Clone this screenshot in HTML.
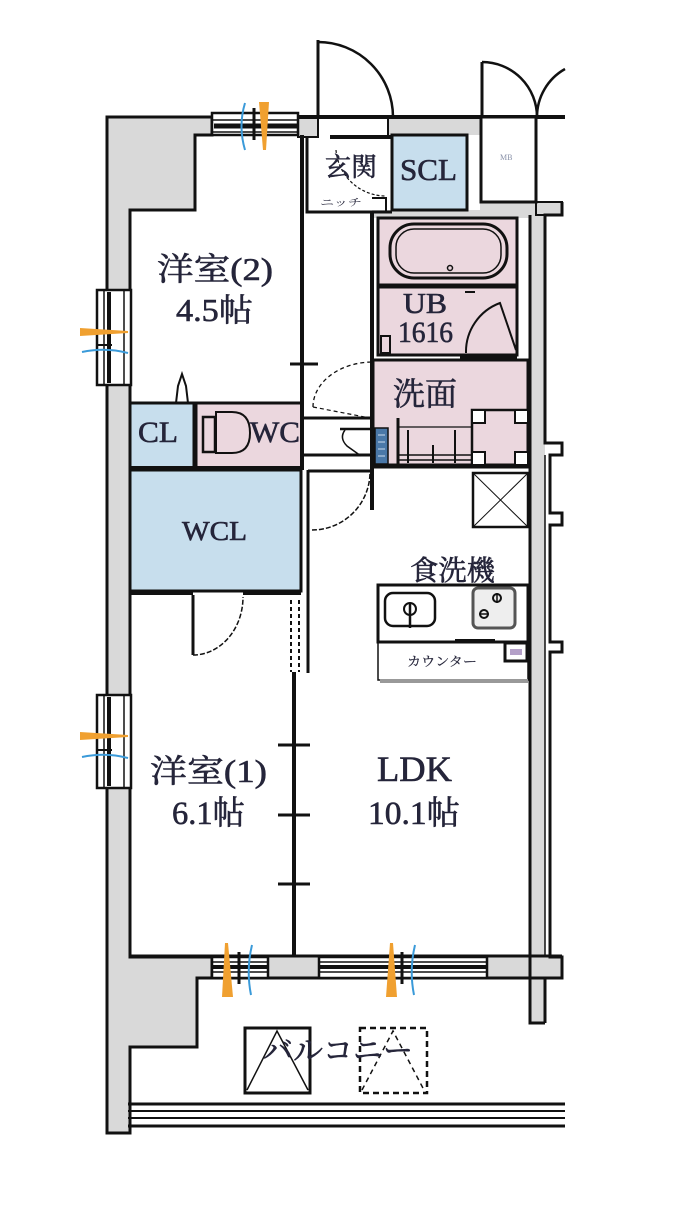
<!DOCTYPE html>
<html><head><meta charset="utf-8"><style>
html,body{margin:0;padding:0;background:#fff;width:700px;height:1220px;overflow:hidden;}
svg{display:block}
text{font-family:"Liberation Serif","Noto Serif CJK SC","Noto Serif CJK JP",serif;fill:#25253a;stroke:#25253a;stroke-width:0.6;}
</style></head><body>
<svg width="700" height="1220" viewBox="0 0 700 1220" xmlns="http://www.w3.org/2000/svg">
<!-- gray walls -->
<g fill="#d9d9d9" stroke="none">
<rect x="298" y="117" width="20" height="20"/>
<rect x="388" y="117" width="92" height="18"/>
<rect x="372" y="210" width="160" height="8"/>
<rect x="480" y="202" width="82" height="13"/>
<rect x="531" y="215" width="14" height="808"/>
<rect x="268" y="957" width="50" height="21"/>
<rect x="487" y="957" width="75" height="21"/>
</g>
<polygon points="107,117 212,117 212,135 195,135 195,210 130,210 130,957 212,957 212,978 197,978 197,1047 130,1047 130,1133 107,1133" fill="#d9d9d9" stroke="#111" stroke-width="3"/>

<!-- room fills -->
<rect x="392" y="135" width="75" height="75" fill="#c7deed" stroke="#111" stroke-width="3"/>
<rect x="378" y="218" width="139" height="67" fill="#ebd7de" stroke="#111" stroke-width="3"/>
<rect x="378" y="287" width="139" height="68" fill="#ebd7de" stroke="#111" stroke-width="3"/>
<rect x="373" y="360" width="155" height="105" fill="#ebd7de" stroke="#111" stroke-width="3"/>
<rect x="130" y="403" width="64" height="65" fill="#c7deed" stroke="#111" stroke-width="3"/>
<rect x="196" y="403" width="106" height="65" fill="#ebd7de" stroke="#111" stroke-width="3"/>
<rect x="130" y="470" width="171" height="121" fill="#c7deed" stroke="#111" stroke-width="3"/>

<!-- top structure -->
<g stroke="#111" fill="none">
<rect x="298" y="117" width="20" height="20" stroke-width="2"/>
<path d="M298,117 H565" stroke-width="4"/>
<path d="M318,117 V40" stroke-width="3"/>
<path d="M318,42 A75,75 0 0 1 393,117" stroke-width="2.5"/>
<rect x="481" y="117" width="55" height="85" stroke-width="3" fill="#fff"/>
<path d="M482,117 V62" stroke-width="3"/>
<path d="M482,62 A55,55 0 0 1 537,117" stroke-width="2.5"/>
<path d="M537,117 A55,55 0 0 1 565,69" stroke-width="2.5"/>
<path d="M536,202 V215 H562 V202 H536" stroke-width="2"/>
<path d="M302,135 V470" stroke-width="4"/>
<path d="M307,137 V212 H392" stroke-width="3"/>
<path d="M330,137 H392" stroke-width="4"/>
<path d="M388,117 V135" stroke-width="2"/>
<path d="M336,150 A50,50 0 0 0 386,196" stroke-width="1.2" stroke-dasharray="3,2"/>
<path d="M372,198 h14 v14" stroke-width="2"/>
<path d="M372,212 V510" stroke-width="4"/>
<!-- top window -->
<rect x="212" y="113" width="86" height="22" fill="#fff" stroke-width="2.5"/>
<path d="M212,120 H298 M212,132 H298" stroke-width="1.5"/>
<path d="M214,126 H298" stroke-width="5"/>
<path d="M254,108 V140" stroke-width="3"/>
</g>
<polygon points="259,102 269,102 266,150 263,150" fill="#f0a030"/>
<path d="M245,103 Q238,126 245,150" stroke="#3a9ad9" stroke-width="2" fill="none"/>

<!-- left windows -->
<g stroke="#111" fill="#fff">
<rect x="97" y="290" width="34" height="95" stroke-width="2.5"/>
<rect x="97" y="695" width="34" height="93" stroke-width="2.5"/>
</g>
<g stroke="#111" fill="none">
<path d="M104,290 V385 M124,290 V385 M104,695 V788 M124,695 V788" stroke-width="1.5"/>
<path d="M109,292 V383 M109,697 V786" stroke-width="4"/>
<path d="M96,345 H112 M96,750 H112" stroke-width="2"/>
</g>
<polygon points="80,328 80,336 128,333 128,331" fill="#f0a030"/>
<polygon points="80,732 80,740 128,737 128,735" fill="#f0a030"/>
<path d="M82,352 Q105,347 128,353 M82,757 Q105,752 128,758" stroke="#3a9ad9" stroke-width="2" fill="none"/>

<!-- UB details -->
<g stroke="#111" fill="none">
<path d="M378,286 H517" stroke-width="4"/>
<rect x="390" y="224" width="117" height="54" rx="24" stroke-width="3"/>
<rect x="396" y="229" width="105" height="44" rx="18" stroke-width="1.5"/>
<circle cx="450" cy="268" r="2.5" stroke-width="1.5"/>
<rect x="381" y="336" width="9" height="17" stroke-width="2"/>
<path d="M466,353 A52,52 0 0 1 500,303 L516,350" stroke-width="2"/>
<path d="M460,357 H517" stroke-width="5"/>
<path d="M465,292 h10" stroke-width="2"/>
</g>

<!-- 洗面 details -->
<g stroke="#111" fill="none">
<rect x="472" y="410" width="56" height="55" stroke-width="2.5"/>
<g fill="#fff" stroke-width="2"><rect x="472" y="410" width="13" height="13"/><rect x="515" y="410" width="13" height="13"/><rect x="472" y="452" width="13" height="13"/><rect x="515" y="452" width="13" height="13"/></g>
<path d="M398,418 V465" stroke-width="3"/>
<path d="M398,427 H472" stroke-width="1.2"/>
<path d="M408,430 V463 M433,445 V463 M455,430 V463" stroke-width="2"/>
<path d="M398,455 H472 M398,460 H472" stroke-width="1.5"/>
</g>
<rect x="375" y="428" width="13" height="36" fill="#4a78a8" stroke="#111" stroke-width="1.5"/>
<path d="M378,435 h7 M378,442 h7 M378,449 h7 M378,456 h7" stroke="#cde" stroke-width="1"/>

<!-- corridor / WC -->
<g stroke="#111" fill="none">
<path d="M290,364 H318" stroke-width="3"/>
<path d="M313,407 A60,45 0 0 1 373,362" stroke-width="1.3" stroke-dasharray="4,3"/>
<path d="M313,407 L370,418" stroke-width="1.2" stroke-dasharray="4,3"/>
<path d="M303,418 H372" stroke-width="3"/>
<path d="M340,429 H372" stroke-width="2.5"/>
<path d="M345,430 q-6,8 2,16 l14,10" stroke-width="1.5"/>
<path d="M303,455 H372" stroke-width="3"/>
<path d="M301,403 H130" stroke-width="3"/>
<path d="M176,403 L178,386 L182,374 L186,386 L188,403" stroke-width="2"/>
<rect x="203" y="417" width="12" height="35" stroke-width="2.5"/>
<path d="M216,412 h16 q18,0 18,21 q0,20 -18,20 h-16 z" stroke-width="2"/>
<path d="M301,468 H130" stroke-width="4"/>
<path d="M308,471 H372" stroke-width="3"/>
<path d="M372,467 H530" stroke-width="3"/>
<path d="M312,530 A58,58 0 0 0 370,472" stroke-width="1.5" stroke-dasharray="5,2"/>
<path d="M308,470 V673" stroke-width="3"/>
<path d="M291,600 V672 M299,600 V672" stroke-width="2" stroke-dasharray="4,3"/>
<path d="M294,672 V957" stroke-width="4"/>
<path d="M278,745 H310 M278,815 H310 M278,884 H310" stroke-width="3"/>
<path d="M130,593 H193 M243,593 H301" stroke-width="4"/>
<path d="M193,595 V655" stroke-width="3"/>
<path d="M193,655 A50,58 0 0 0 243,597" stroke-width="1.5" stroke-dasharray="5,2"/>
</g>

<!-- kitchen -->
<g stroke="#111" fill="none">
<rect x="473" y="473" width="55" height="54" stroke-width="2.5"/>
<path d="M473,473 L528,527 M528,473 L473,527" stroke-width="1"/>
<rect x="378" y="642" width="150" height="38" fill="#fff" stroke-width="1.5"/>
<path d="M380,681 H528" stroke="#999" stroke-width="4"/>
<rect x="378" y="585" width="150" height="57" fill="#fff" stroke-width="3"/>
<path d="M455,641 H495" stroke-width="4"/>
<rect x="385" y="593" width="50" height="33" rx="8" stroke-width="2.5"/>
<circle cx="410" cy="609" r="6" stroke-width="2"/>
<path d="M410,603 V628" stroke-width="2.5"/>
<rect x="473" y="588" width="42" height="40" rx="5" fill="#eee" stroke="#555" stroke-width="3"/>
<circle cx="497" cy="598" r="4" stroke-width="2"/>
<circle cx="484" cy="614" r="4" stroke-width="2"/>
<path d="M479,614 h10 M497,593 v10" stroke-width="1.5"/>
<rect x="505" y="643" width="22" height="18" fill="#fff" stroke-width="3"/>
</g>
<rect x="510" y="649" width="12" height="6" fill="#b4a0c8"/>

<!-- right wall -->
<g stroke="#111" fill="none">
<path d="M530,215 V1023 H545" stroke-width="3"/>
<path d="M562,202 V215 H545 V443 H562 V455 H550 V513 H562 V525 H550 V642 H562 V652 H550 V957 H562 V978 H545 V1023" stroke-width="3"/>
<path d="M545,455 V957" stroke-width="1.5"/>
</g>

<!-- bottom wall -->
<g stroke="#111" fill="none">
<path d="M130,956 H562" stroke-width="3"/>
<path d="M197,978 H545" stroke-width="3"/>
<rect x="212" y="957" width="56" height="21" fill="#fff" stroke-width="2.5"/>
<rect x="319" y="957" width="168" height="21" fill="#fff" stroke-width="2.5"/>
<path d="M212,962 H268 M212,972 H268 M319,962 H487 M319,972 H487" stroke-width="1.5"/>
<path d="M212,967 H268 M319,967 H487" stroke-width="4"/>
<path d="M239,952 V984 M402,952 V984" stroke-width="3"/>
</g>
<polygon points="225,943 228,943 233,997 222,997" fill="#f0a030"/>
<polygon points="390,943 393,943 397,997 386,997" fill="#f0a030"/>
<path d="M252,945 Q246,970 251,995 M415,945 Q409,970 414,995" stroke="#3a9ad9" stroke-width="2" fill="none"/>

<!-- balcony -->
<g stroke="#111" fill="none">
<path d="M128,1104 H565" stroke-width="3"/>
<path d="M128,1111 H565 M128,1118 H565" stroke-width="2"/>
<path d="M128,1126 H565" stroke-width="3"/>
<rect x="245" y="1028" width="65" height="65" stroke-width="3"/>
<path d="M247,1090 L277,1031 L308,1090" stroke-width="1.5"/>
<rect x="360" y="1028" width="67" height="65" stroke-width="2.5" stroke-dasharray="6,4"/>
<path d="M362,1090 L393,1031 L424,1090" stroke-width="1.5" stroke-dasharray="5,4"/>
</g>

<!-- labels -->
<text x="157" y="280" font-size="32" textLength="116" lengthAdjust="spacingAndGlyphs">洋室(2)</text>
<text x="176" y="321" font-size="32" textLength="77" lengthAdjust="spacingAndGlyphs">4.5帖</text>
<text x="325" y="176" font-size="26" textLength="52" lengthAdjust="spacingAndGlyphs">玄関</text>
<text x="320" y="206" font-size="10" textLength="42" lengthAdjust="spacingAndGlyphs" style="stroke-width:0">ニッチ</text>
<text x="400" y="180" font-size="31" textLength="57" lengthAdjust="spacingAndGlyphs">SCL</text>
<text x="500" y="160" font-size="8" style="fill:#8890a8;stroke-width:0">MB</text>
<text x="403" y="313" font-size="29" textLength="44" lengthAdjust="spacingAndGlyphs">UB</text>
<text x="398" y="342" font-size="30" textLength="55" lengthAdjust="spacingAndGlyphs">1616</text>
<text x="393" y="405" font-size="32" textLength="64" lengthAdjust="spacingAndGlyphs">洗面</text>
<text x="138" y="442" font-size="30" textLength="40" lengthAdjust="spacingAndGlyphs">CL</text>
<text x="250" y="442" font-size="30" textLength="50" lengthAdjust="spacingAndGlyphs">WC</text>
<text x="182" y="540" font-size="27" textLength="65" lengthAdjust="spacingAndGlyphs">WCL</text>
<text x="410" y="580" font-size="28" textLength="85" lengthAdjust="spacingAndGlyphs">食洗機</text>
<text x="407" y="666" font-size="13" textLength="70" lengthAdjust="spacingAndGlyphs" style="stroke-width:0.2">カウンター</text>
<text x="150" y="782" font-size="32" textLength="117" lengthAdjust="spacingAndGlyphs">洋室(1)</text>
<text x="172" y="824" font-size="33" textLength="73" lengthAdjust="spacingAndGlyphs">6.1帖</text>
<text x="377" y="781" font-size="36" textLength="75" lengthAdjust="spacingAndGlyphs">LDK</text>
<text x="368" y="824" font-size="33" textLength="92" lengthAdjust="spacingAndGlyphs">10.1帖</text>
<text x="263" y="1061" font-size="30" textLength="150" lengthAdjust="spacingAndGlyphs">バルコニー</text>
</svg>
</body></html>
